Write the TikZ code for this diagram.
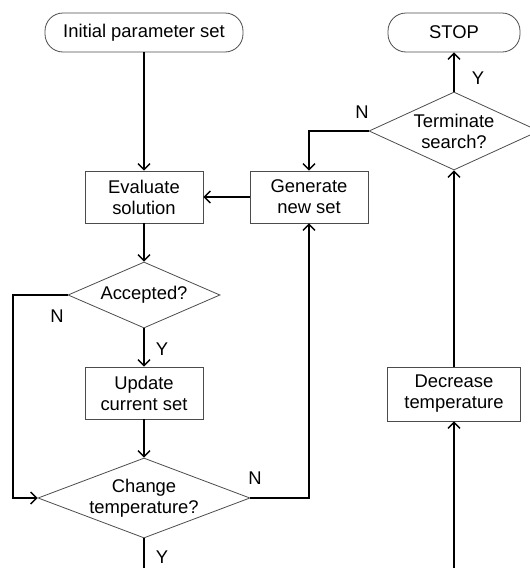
\documentclass[tikz,border=0pt]{standalone}
\usepackage{fontspec}
\setmainfont{Liberation Sans}
\usepackage{tikz}
\usetikzlibrary{shapes.geometric, arrows.meta}
\tikzstyle{arrow}    = [line width=0.7pt,-{Straight Barb[length=3pt,width=6pt]}]

\begin{document}
\begin{tikzpicture}[
    x=0.5pt, y=-0.5pt,
    font=\fontsize{9.2}{10.5}\selectfont,
    terminal/.style={draw=black!70, line width=0.4pt, rounded corners=9pt,
      minimum height=19.5pt, inner sep=0pt},
    process/.style={draw=black!70, line width=0.4pt, align=center,
      minimum width=59pt, minimum height=26pt, inner sep=0pt},
    decision/.style={diamond, draw=black!70, line width=0.4pt, align=center,
      inner sep=0pt},
    lbl/.style={inner sep=0pt},
  ]
  \useasboundingbox (0,0) rectangle (530,568);

  % left column
  \node[terminal, minimum width=99pt] (init) at (144,32.5) {Initial parameter set};
  \node[process] (eval) at (144,197) {Evaluate\\solution};
  \node[decision, aspect=2.3, minimum width=76pt, minimum height=33pt] (acc) at (144,295) {Accepted?};
  \node[process] (upd) at (144,393) {Update\\current set};
  \node[decision, aspect=2.65, minimum width=106pt, minimum height=40pt] (chg) at (144,498) {Change\\temperature?};

  % middle and right columns
  \node[process] (gen) at (309,197) {Generate\\new set};
  \node[terminal, minimum width=66pt] (stop) at (454,32.5) {STOP};
  \node[decision, aspect=2.18, minimum width=85pt, minimum height=39pt] (term) at (454,131) {Terminate\\search?};
  \node[process, minimum width=66.5pt, minimum height=27pt] (dec) at (454,394) {Decrease\\temperature};

  \coordinate (loopL) at (13,0);
  \coordinate (outL) at (144,568);
  \coordinate (outR) at (454,568);

  % connectors
  \draw[arrow] (init) -- (eval);
  \draw[arrow] (gen) -- (eval);
  \draw[arrow] (eval) -- (acc);
  \draw[arrow] (acc) -- (upd);
  \draw[arrow] (upd) -- (chg);
  \draw[arrow] (acc.west) -- (acc.west -| loopL) |- (chg.west);
  \draw[arrow] (chg.east) -| (gen.south);
  \draw[line width=0.7pt] (chg.south) -- (outL);
  \draw[arrow] (outR) -- (dec.south);
  \draw[arrow] (dec) -- (term);
  \draw[arrow] (term.west) -| (gen.north);
  \draw[arrow] (term) -- (stop);

  % branch labels
  \node[lbl] (accN) at (57,316) {N};
  \node[lbl] (accY) at (162,349) {Y};
  \node[lbl] (chgN) at (255,478) {N};
  \node[lbl] (chgY) at (162,557) {Y};
  \node[lbl] (termN) at (362,112) {N};
  \node[lbl] (termY) at (478,78) {Y};
\end{tikzpicture}
\end{document}
